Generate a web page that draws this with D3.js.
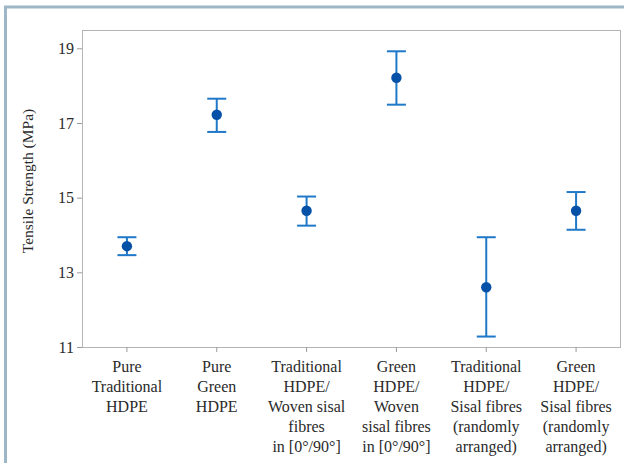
<!DOCTYPE html>
<html>
<head>
<meta charset="utf-8">
<script src="https://cdn.jsdelivr.net/npm/d3@7"></script>
<style>
  body { margin: 0; background: #fff; }
  svg { display: block; font-family: "Liberation Serif", "Times New Roman", serif; }
</style>
</head>
<body>
<svg id="chart" width="624" height="463"></svg>
<script>
// categories, each one split into the lines shown under the tick
const categories = [
  ["Pure", "Traditional", "HDPE"],
  ["Pure", "Green", "HDPE"],
  ["Traditional", "HDPE/", "Woven sisal", "fibres", "in [0°/90°]"],
  ["Green", "HDPE/", "Woven", "sisal fibres", "in [0°/90°]"],
  ["Traditional", "HDPE/", "Sisal fibres", "(randomly", "arranged)"],
  ["Green", "HDPE/", "Sisal fibres", "(randomly", "arranged)"],
];
const means = [13.70, 17.22, 14.65, 18.21, 12.60, 14.65];
const upper = [13.94, 17.65, 15.03, 18.92, 13.94, 15.15];
const lower = [13.46, 16.76, 14.25, 17.49, 11.28, 14.14];
const yTicks = [11, 13, 15, 17, 19];

const svg = d3.select("#chart");

// outer frame
svg.append("rect")
  .attr("x", 5.5).attr("y", 7)
  .attr("width", 640).attr("height", 480)
  .attr("fill", "none")
  .attr("stroke", "#9db7c6")
  .attr("stroke-width", 3);

const margin = { left: 82, top: 30, right: 3, bottom: 116 };
const width = 624 - margin.left - margin.right;
const height = 463 - margin.top - margin.bottom;

const g = svg.append("g").attr("transform", `translate(${margin.left},${margin.top})`);

const idx = d3.range(categories.length);
const x = d3.scaleBand().domain(idx).range([0, width]);
const y = d3.scaleLinear().domain([11, 19.49]).range([height, 0]);
const cx = (i) => x(i) + x.bandwidth() / 2;

// plot frame
g.append("rect")
  .attr("x", 0.5).attr("y", 0.5)
  .attr("width", width - 1).attr("height", height)
  .attr("fill", "none")
  .attr("stroke", "#b4b4b4");

// y axis
const yAxis = g.append("g")
  .call(d3.axisLeft(y).tickValues(yTicks).tickSize(5).tickSizeOuter(0).tickPadding(3));
yAxis.select(".domain").remove();
yAxis.selectAll("line").attr("stroke", "#9a9a9a");
yAxis.selectAll("text")
  .attr("font-size", 16).attr("fill", "#2a2a2a")
  .style("font-family", "Liberation Serif");

// x axis
const xAxis = g.append("g")
  .attr("transform", `translate(0,${height})`)
  .call(d3.axisBottom(x).tickSize(5).tickSizeOuter(0).tickFormat(""));
xAxis.select(".domain").remove();
xAxis.selectAll("line").attr("stroke", "#9a9a9a");

const labels = g.append("g").attr("transform", `translate(0,${height})`);
labels.selectAll("text")
  .data(categories)
  .join("text")
  .attr("x", (d, i) => cx(i))
  .attr("y", 25)
  .attr("text-anchor", "middle")
  .attr("font-size", 16)
  .attr("fill", "#2a2a2a")
  .selectAll("tspan")
  .data((d) => d)
  .join("tspan")
  .attr("x", function () { return this.parentNode.getAttribute("x"); })
  .attr("dy", (d, j) => (j === 0 ? 0 : 20))
  .text((d) => d);

// y axis title
svg.append("text")
  .attr("transform", "translate(33,181) rotate(-90)")
  .attr("text-anchor", "middle")
  .attr("font-size", 15.5)
  .attr("fill", "#2a2a2a")
  .text("Tensile Strength (MPa)");

// error bars
const errColor = "#1f78c8";
const capW = 9.5;
const bars = g.append("g");
bars.selectAll("line.stem")
  .data(idx).join("line").attr("class", "stem")
  .attr("x1", cx).attr("x2", cx)
  .attr("y1", (i) => y(upper[i])).attr("y2", (i) => y(lower[i]))
  .attr("stroke", errColor).attr("stroke-width", 2);
bars.selectAll("line.capTop")
  .data(idx).join("line").attr("class", "capTop")
  .attr("x1", (i) => cx(i) - capW).attr("x2", (i) => cx(i) + capW)
  .attr("y1", (i) => y(upper[i])).attr("y2", (i) => y(upper[i]))
  .attr("stroke", errColor).attr("stroke-width", 2);
bars.selectAll("line.capBot")
  .data(idx).join("line").attr("class", "capBot")
  .attr("x1", (i) => cx(i) - capW).attr("x2", (i) => cx(i) + capW)
  .attr("y1", (i) => y(lower[i])).attr("y2", (i) => y(lower[i]))
  .attr("stroke", errColor).attr("stroke-width", 2);

// mean points
g.selectAll("circle")
  .data(idx).join("circle")
  .attr("cx", cx)
  .attr("cy", (i) => y(means[i]))
  .attr("r", 5.2)
  .attr("fill", "#0651a8");
</script>
</body>
</html>
